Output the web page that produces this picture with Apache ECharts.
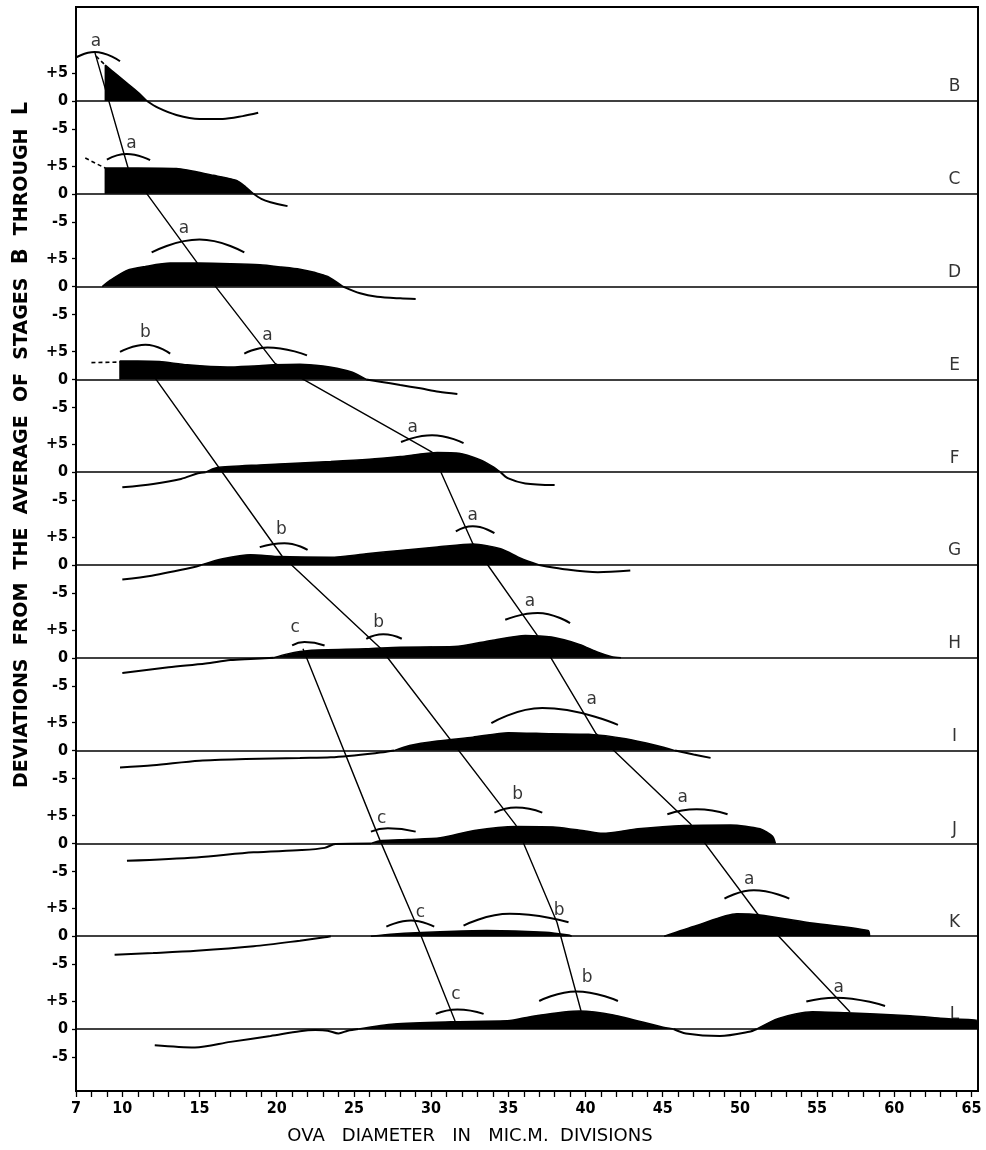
<!DOCTYPE html>
<html><head><meta charset="utf-8">
<script src="https://cdn.jsdelivr.net/npm/echarts@6/dist/echarts.min.js"></script>
<style>html,body{margin:0;padding:0;background:#fff}#c{width:986px;height:1150px}</style>
</head><body><div id="c"></div>
<script>
// ---------------- DATA (x = ova diameter, y = deviation within each stage) ----------------
const stages = ['B','C','D','E','F','G','H','I','J','K','L'];
const xTickLabels = [7,10,15,20,25,30,35,40,45,50,55,60,65];
const yTickValues = [-5,0,5];

const fillB = [[8.9,0],[8.9,6.4],[9.6,4.8],[10.3,3.2],[11.0,1.6],[11.6,0]];
const tailB = [[11.6,0],[12.3,-1.2],[13.5,-2.5],[15.0,-3.2],[16.5,-3.2],[17.8,-2.7],[18.8,-2.1]];
const leadB = [[8.3,8.0],[8.9,6.4]];
const arcsB = [[6.9,7.6],[8.2,8.75],[9.85,7.1]];
const labelsB = [['a',8.3,10.6]];

const fillC = [[8.9,0],[8.9,4.6],[11.0,4.6],[13.5,4.5],[15.9,3.3],[17.4,2.4],[18.0,1.2],[18.5,0]];
const tailC = [[18.5,0],[19.0,-0.9],[19.6,-1.5],[20.7,-2.2]];
const leadC = [[7.6,6.4],[8.3,5.4],[8.9,4.6]];
const arcsC = [[9.0,6.1],[10.3,7.1],[11.8,6.0]];
const labelsC = [['a',10.6,8.9]];

const fillD = [[8.7,0],[9.2,1.1],[10.3,2.9],[11.5,3.6],[13.1,4.2],[15.0,4.2],[17.0,4.1],[18.9,3.9],[20.3,3.5],[21.5,3.1],[22.5,2.5],[23.3,1.8],[24.3,0]];
const tailD = [[24.3,0],[25.4,-1.2],[26.5,-1.8],[28.0,-2.1],[29.0,-2.2]];
const leadD = [];
const arcsD = [[11.9,6.1],[15.0,8.4],[17.9,6.1]];
const labelsD = [['a',14.0,10.4]];

const fillE = [[9.85,0],[9.85,3.3],[11.0,3.3],[12.4,3.2],[14.2,2.6],[16.8,2.2],[18.5,2.4],[19.8,2.6],[21.5,2.7],[23.0,2.4],[23.9,2.0],[24.9,1.3],[25.8,0]];
const tailE = [[25.8,0],[26.7,-0.4],[28.0,-1.0],[29.3,-1.6],[30.5,-2.2],[31.7,-2.6]];
const leadE = [[8.0,3.0],[9.85,3.1]];
const arcsE = [[9.85,4.9],[11.5,6.2],[13.1,4.6],null,[17.9,4.6],[19.4,5.7],[21.96,4.3]];
const labelsE = [['b',11.5,8.4],['a',19.4,7.9]];

const fillF = [[15.4,0],[16.1,0.8],[18.9,1.3],[23.5,1.9],[26.0,2.3],[28.0,2.8],[30.4,3.5],[31.8,3.4],[33.2,2.2],[34.0,1.0],[34.5,0]];
const tailF = [[10.0,-2.7],[12.0,-2.1],[13.8,-1.2],[14.9,-0.2],[15.4,0],null,[34.5,0],[35.0,-1.1],[36.1,-2.0],[38.0,-2.3]];
const leadF = [];
const arcsF = [[28.05,5.4],[30.06,6.6],[32.1,5.2]];
const labelsF = [['a',28.8,7.9]];

const fillG = [[15.1,0],[16.5,1.1],[18.3,1.85],[20.2,1.5],[23.5,1.4],[25.8,2.0],[28.0,2.6],[30.4,3.2],[32.7,3.75],[34.5,2.9],[35.8,1.2],[37.0,0]];
const tailG = [[10.0,-2.6],[11.9,-1.9],[14.6,-0.4],[15.1,0],null,[37.0,0],[38.5,-0.7],[40.8,-1.3],[42.9,-1.0]];
const leadG = [];
const arcsG = [[18.9,3.2],[20.5,3.9],[22.0,2.7],null,[31.6,6.0],[32.7,6.9],[34.1,5.7]];
const labelsG = [['b',20.3,6.4],['a',32.7,8.8]];

const fillH = [[19.8,0],[20.7,0.7],[22.1,1.3],[25.8,1.6],[28.0,1.9],[31.5,2.0],[33.9,3.1],[36.1,4.0],[37.8,3.7],[39.6,2.4],[40.8,1.0],[41.7,0.2],[42.3,0]];
const tailH = [[10.0,-2.7],[13.0,-1.7],[15.4,-1.0],[17.0,-0.4],[18.3,-0.2],[19.8,0]];
const leadH = [];
const arcsH = [[21.0,2.2],[21.8,2.8],[23.1,2.2],null,[25.8,3.4],[26.9,4.2],[28.1,3.4],null,[34.8,6.8],[36.9,8.0],[39.0,6.2]];
const labelsH = [['c',21.2,5.4],['b',26.6,6.3],['a',36.4,10.0]];

const fillI = [[27.6,0],[28.6,0.9],[30.4,1.7],[32.7,2.4],[35.0,3.2],[37.8,3.0],[40.2,2.9],[42.6,2.1],[44.6,0.9],[45.8,0]];
const tailI = [[9.85,-3.0],[12.0,-2.6],[15.0,-1.8],[18.0,-1.5],[21.5,-1.3],[23.5,-1.2],[26.9,-0.3],[27.6,0],null,[45.8,0],[47.0,-0.7],[48.1,-1.3]];
const leadI = [];
const arcsI = [[33.9,4.9],[37.2,7.6],[42.1,4.6]];
const labelsI = [['a',40.4,9.1]];

const fillJ = [[26.1,0],[26.8,0.5],[28.5,0.7],[30.6,1.0],[32.8,2.3],[35.5,3.0],[38.1,2.9],[40.0,2.2],[41.1,1.8],[43.4,2.6],[46.4,3.2],[49.4,3.3],[51.3,2.6],[52.1,1.3],[52.3,0]];
const tailJ = [[10.3,-3.1],[14.8,-2.5],[18.5,-1.6],[21.6,-1.2],[23.1,-0.8],[23.8,-0.1],[26.1,0]];
const leadJ = [];
const arcsJ = [[26.1,2.1],[27.2,2.7],[29.0,2.1],null,[34.1,5.5],[35.5,6.4],[37.2,5.5],null,[45.3,5.2],[47.2,6.1],[49.2,5.2]];
const labelsJ = [['c',26.8,4.5],['b',35.6,8.8],['a',46.3,8.1]];

const fillK = [[26.1,0],[27.6,0.4],[30.6,0.8],[33.6,1.0],[37.4,0.7],[38.9,0.2],[39.1,0],null,[45.1,0],[47.2,1.9],[49.8,4.0],[51.3,3.8],[54.3,2.5],[58.3,1.0],[58.4,0]];
const tailK = [[9.5,-3.3],[12.0,-3.0],[14.8,-2.6],[18.5,-1.8],[21.5,-0.8],[23.1,-0.2],[23.5,0]];
const leadK = [];
const arcsK = [[27.1,1.7],[28.7,2.8],[30.2,1.7],null,[32.1,1.9],[35.1,4.0],[38.9,2.5],null,[49.0,6.7],[50.9,8.2],[53.2,6.7]];
const labelsK = [['c',29.3,4.3],['b',38.3,4.5],['a',50.6,10.2]];

const fillL = [[25.3,0],[27.6,0.9],[31.3,1.3],[35.1,1.5],[36.6,2.3],[39.6,3.2],[41.8,2.5],[44.9,0.4],[45.7,0],null,[51.1,0],[52.5,1.9],[54.7,3.1],[56.9,2.9],[60.7,2.4],[63.7,1.8],[65.4,1.5],[65.4,0]];
const tailL = [[12.1,-2.9],[14.7,-3.3],[17.0,-2.3],[19.6,-1.25],[21.5,-0.4],[22.5,-0.2],[23.3,-0.3],[24.0,-0.8],[24.6,-0.3],[25.3,0],null,[45.7,0],[46.5,-0.8],[48.7,-1.25],[50.6,-0.5],[51.1,0]];
const leadL = [];
const arcsL = [[30.3,2.7],[31.7,3.5],[33.4,2.7],null,[37.0,5.0],[39.4,6.7],[42.1,5.0],null,[54.3,4.9],[56.2,5.6],[59.4,4.1]];
const labelsL = [['c',31.6,6.1],['b',40.1,9.1],['a',56.4,7.4]];

// diagonal connecting lines: [stage, x, deviation within that stage]
const lineA = [['B',8.23,8.6],['C',10.37,4.64],['D',14.84,4.29],['E',19.89,2.86],['F',30.06,3.57],['G',32.71,3.75],['H',36.99,3.57],['I',40.68,3.04],['J',46.77,3.57],['K',51.11,4.1],['L',57.13,3.04]];
const lineB = [['E',11.40,3.04],['G',20.34,1.61],['H',26.69,1.79],['J',35.5,3.21],['K',38.15,2.5],['L',39.71,3.21]];
const lineC = [['H',21.70,1.61],['J',26.69,0.54],['K',29.28,0.54],['L',31.55,1.43]];

const stageLetterPos = [63.9, 2.5];
const yTitle = 'DEVIATIONS  FROM  THE  AVERAGE  OF  STAGES  ';
const xTitle = 'OVA   DIAMETER   IN   MIC.M.  DIVISIONS';

// ---------------- LAYOUT ----------------
const FONT = "'DejaVu Sans Condensed','Liberation Sans Narrow',sans-serif";
const FONTW = "'DejaVu Sans',sans-serif";
const LEFT = 76, WIDTH = 902, XMIN = 7, XMAX = 65.42;
const PXU = 5.6, ROW = 92.8, TOP = 7, BOTTOM = 1091, BASE0 = 101;
const SP = ROW / PXU;

const stageData = {
  B:{fill:fillB,tail:tailB,lead:leadB,arcs:arcsB,labels:labelsB},
  C:{fill:fillC,tail:tailC,lead:leadC,arcs:arcsC,labels:labelsC},
  D:{fill:fillD,tail:tailD,lead:leadD,arcs:arcsD,labels:labelsD},
  E:{fill:fillE,tail:tailE,lead:leadE,arcs:arcsE,labels:labelsE},
  F:{fill:fillF,tail:tailF,lead:leadF,arcs:arcsF,labels:labelsF},
  G:{fill:fillG,tail:tailG,lead:leadG,arcs:arcsG,labels:labelsG},
  H:{fill:fillH,tail:tailH,lead:leadH,arcs:arcsH,labels:labelsH},
  I:{fill:fillI,tail:tailI,lead:leadI,arcs:arcsI,labels:labelsI},
  J:{fill:fillJ,tail:tailJ,lead:leadJ,arcs:arcsJ,labels:labelsJ},
  K:{fill:fillK,tail:tailK,lead:leadK,arcs:arcsK,labels:labelsK},
  L:{fill:fillL,tail:tailL,lead:leadL,arcs:arcsL,labels:labelsL}
};

const grids=[], xAxes=[], yAxes=[], series=[];
const nS = stages.length;
const xTicks = [];
for (let v = 7; v <= 65; v++) xTicks.push(v);

stages.forEach((s,k)=>{
  const base = BASE0 + k*ROW;
  let top = base - ROW/2, bottom = base + ROW/2;
  if (k===0) top = TOP;
  if (k===nS-1) bottom = BOTTOM;
  const isLast = k===nS-1;
  grids.push({left:LEFT, width:WIDTH, top:top, height:bottom-top});
  xAxes.push({
    gridIndex:k, type:'value', min:XMIN, max:XMAX, show:isLast, position:'bottom',
    axisLine:{show:false, onZero:false}, splitLine:{show:false},
    axisTick:{show:isLast, customValues:xTicks, length:6, lineStyle:{color:'#000', width:1.3}},
    axisLabel:{show:isLast, customValues:xTickLabels, color:'#000', fontFamily:FONT, fontSize:16, fontWeight:'bold', margin:10}
  });
  yAxes.push({
    gridIndex:k, type:'value', min:-(bottom-base)/PXU, max:(base-top)/PXU,
    axisLine:{show:false}, splitLine:{show:false},
    axisTick:{show:true, customValues:yTickValues, length:4, lineStyle:{color:'#000', width:1.3}},
    axisLabel:{customValues:yTickValues, color:'#000', fontFamily:FONT, fontSize:16, fontWeight:'bold', margin:8,
      formatter:v=> v>0 ? '+'+v : String(v)}
  });
  const d = stageData[s];
  series.push({
    type:'line', xAxisIndex:k, yAxisIndex:k, data:d.fill, symbol:'none', smooth:0.25,
    lineStyle:{color:'#000', width:1.5}, areaStyle:{color:'#000', opacity:1}, z:3, silent:true,
    markLine:{silent:true, symbol:'none', label:{show:false}, lineStyle:{color:'#000', width:1.6, type:'solid'}, data:[{yAxis:0}]}
  });
  series.push({type:'line', xAxisIndex:k, yAxisIndex:k, data:d.tail, symbol:'none', smooth:0.3, connectNulls:false,
    lineStyle:{color:'#000', width:2}, z:3, silent:true});
  if (d.lead.length) series.push({type:'line', xAxisIndex:k, yAxisIndex:k, data:d.lead, symbol:'none', clip:false,
    lineStyle:{color:'#000', width:1.6, type:[4,3]}, z:3, silent:true});
  series.push({type:'line', xAxisIndex:k, yAxisIndex:k, data:d.arcs, symbol:'none', smooth:0.5, connectNulls:false, clip:false,
    lineStyle:{color:'#000', width:2}, z:3, silent:true});
  series.push({type:'scatter', xAxisIndex:k, yAxisIndex:k, symbolSize:1, itemStyle:{color:'rgba(0,0,0,0)'}, silent:true, clip:false,
    data:d.labels.map(l=>({name:l[0], value:[l[1], l[2]]})),
    label:{show:true, position:'inside', formatter:p=>p.name, color:'#000', fontFamily:FONTW, fontSize:17}});
  series.push({type:'scatter', xAxisIndex:k, yAxisIndex:k, symbolSize:1, itemStyle:{color:'rgba(0,0,0,0)'}, silent:true, clip:false,
    data:[{name:s, value:stageLetterPos}],
    label:{show:true, position:'inside', formatter:p=>p.name, color:'#000', fontFamily:FONTW, fontSize:17}});
});

// overlay grid spanning every panel (box + diagonal lines)
const OV = nS;
grids.push({left:LEFT, width:WIDTH, top:TOP, height:BOTTOM-TOP, show:true, borderColor:'#000', borderWidth:2, backgroundColor:'transparent'});
xAxes.push({gridIndex:OV, type:'value', min:XMIN, max:XMAX, show:false});
yAxes.push({gridIndex:OV, type:'value', max:(BASE0-TOP)/PXU, min:(BASE0-TOP)/PXU-(BOTTOM-TOP)/PXU, show:false});
const toGlobal = arr => arr.map(([s,x,dv]) => [x, dv - stages.indexOf(s)*SP]);
[lineA,lineB,lineC].forEach(L=>{
  series.push({type:'line', xAxisIndex:OV, yAxisIndex:OV, data:toGlobal(L), symbol:'none',
    lineStyle:{color:'#000', width:1.4}, z:4, silent:true});
});

const chart = echarts.init(document.getElementById('c'), null, {renderer:'canvas'});
chart.setOption({
  animation:false, backgroundColor:'#fff',
  grid:grids, xAxis:xAxes, yAxis:yAxes, series:series,
  graphic:[
    {type:'text', x:22, y:445, rotation:Math.PI/2, style:{
      text:'{n|'+yTitle+'}{b|B}{n|  THROUGH  }{b|L}', align:'center', verticalAlign:'middle',
      rich:{n:{fontFamily:FONTW, fontSize:19, fontWeight:'bold', fill:'#000'}, b:{fontFamily:FONTW, fontSize:21, fontWeight:900, fill:'#000'}}
    }},
    {type:'text', x:470, y:1136, style:{text:xTitle, align:'center', verticalAlign:'middle',
      fontFamily:FONTW, fontSize:18, fill:'#000'}}
  ]
});
</script></body></html>
